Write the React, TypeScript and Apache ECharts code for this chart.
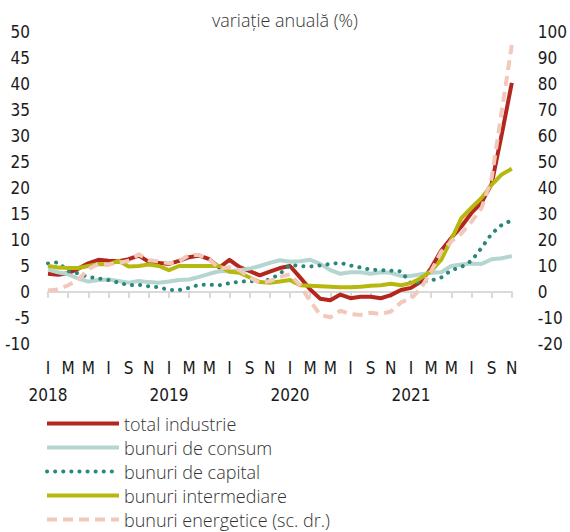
import React, { useEffect, useRef } from 'react';
import * as echarts from 'echarts';

const years = ['2018', '2019', '2020', '2021'];
const monthLetters = ['I', 'F', 'M', 'A', 'M', 'I', 'I', 'A', 'S', 'O', 'N', 'D'];
const monthCount = 47;
const categories: string[] = [];
years.forEach((y) =>
  monthLetters.forEach((_, k) => {
    if (categories.length < monthCount) categories.push(`${y}-${String(k + 1).padStart(2, '0')}`);
  })
);

const totalIndustrie = [
  3.5, 3.3, 3.6, 4.5, 5.5, 6.2, 6.0, 5.9, 6.3, 7.0, 5.8, 5.6,
  5.4, 6.0, 6.7, 7.0, 6.3, 4.7, 6.2, 4.8, 4.0, 3.2, 3.9, 4.6,
  5.0, 2.8, 0.5, -1.3, -1.6, -0.5, -1.2, -0.9, -0.9, -1.2, -0.6, 0.4,
  0.8, 2.0, 4.6, 8.0, 10.4, 12.6, 15.2, 17.2, 20.8, 30.3, 40.2,
];
const bunuriConsum = [
  4.3, 3.8, 3.4, 2.6, 2.0, 2.3, 2.4, 2.1, 1.8, 2.1, 1.9, 1.8,
  2.0, 2.3, 2.4, 2.9, 3.5, 4.0, 4.0, 4.2, 4.5, 5.0, 5.6, 6.1,
  5.8, 5.9, 6.2, 5.4, 4.2, 3.5, 3.8, 3.8, 3.5, 3.8, 3.7, 3.1,
  3.1, 3.4, 3.7, 3.8, 5.0, 5.3, 5.5, 5.4, 6.3, 6.5, 6.9,
];
const bunuriCapital = [
  5.5, 5.7, 4.0, 3.6, 2.9, 2.6, 2.3, 1.8, 1.3, 1.4, 1.1, 0.9,
  0.4, 0.4, 0.8, 1.4, 1.4, 1.3, 1.7, 2.0, 2.1, 1.9, 2.4, 3.5,
  5.2, 5.0, 4.9, 5.1, 5.4, 5.6, 5.1, 4.7, 4.3, 4.2, 4.1, 4.0,
  1.6, 2.0, 2.2, 2.8, 4.2, 4.8, 6.0, 8.5, 11.2, 12.9, 13.8,
];
const bunuriIntermediare = [
  5.0, 4.7, 4.6, 4.6, 5.0, 5.4, 5.3, 6.0, 4.9, 5.0, 5.3, 5.0,
  4.2, 5.0, 5.0, 5.0, 5.0, 5.0, 3.9, 3.7, 2.8, 1.9, 1.8, 2.0,
  2.3, 1.3, 1.2, 1.1, 1.0, 0.9, 0.9, 1.0, 1.2, 1.3, 1.6, 1.3,
  1.7, 2.7, 4.0, 6.2, 10.1, 14.2, 16.2, 18.1, 20.6, 22.6, 23.7,
];
const bunuriEnergetice = [
  0.6, 1.0, 2.6, 4.8, 8.8, 10.8, 10.6, 11.2, 12.0, 14.5, 12.2, 11.8,
  11.0, 11.8, 14.2, 14.2, 12.6, 9.0, 9.5, 8.4, 5.6, 3.5, 4.2, 5.8,
  6.8, 2.5, -3.5, -8.8, -9.7, -7.2, -8.5, -8.8, -8.0, -8.5, -7.5, -4.0,
  -2.5, 1.5, 8.0, 15.5, 19.5, 22.5, 27.0, 32.3, 43.8, 69.5, 95.0,
];

const seriesNames = [
  'total industrie',
  'bunuri de consum',
  'bunuri de capital',
  'bunuri intermediare',
  'bunuri energetice (sc. dr.)',
];

const leftAxis = { min: -10, max: 50, interval: 5 };
const rightAxis = { min: -20, max: 100, interval: 10 };

const tickFont = "'Liberation Sans Narrow', 'DejaVu Sans Condensed', sans-serif";
const textFont = "'Open Sans', 'Noto Sans', sans-serif";

export default function App() {
  const ref = useRef<HTMLDivElement>(null);

  useEffect(() => {
    if (!ref.current) return;
    const chart = echarts.init(ref.current, undefined, { renderer: 'svg' });
    const axisLabelStyle = { fontFamily: tickFont, fontSize: 17, color: '#1a1a1a' };
    const lineBase = (color: string, extra: any = {}) => ({
      type: 'line',
      symbol: 'none',
      smooth: false,
      itemStyle: { color },
      lineStyle: { color, width: 4, join: 'round', ...extra },
      emphasis: { disabled: true },
    });

    chart.setOption({
      animation: false,
      title: {
        text: 'variație anuală (%)',
        left: 'center',
        top: 6,
        textStyle: { fontFamily: textFont, fontSize: 18, fontWeight: 300, color: '#333' },
      },
      grid: { left: 48, right: 51, top: 32, bottom: 188, containLabel: false },
      legend: {
        orient: 'vertical',
        left: 45,
        top: 414,
        height: 140,
        padding: 0,
        itemWidth: 72,
        itemHeight: 14,
        itemGap: 5,
        data: seriesNames,
        itemStyle: { opacity: 0, borderWidth: 0 },
        lineStyle: { width: 4 },
        textStyle: { fontFamily: textFont, fontSize: 18, fontWeight: 300, color: '#333', lineHeight: 19 },
        selectedMode: false,
      },
      xAxis: [
        {
          type: 'category',
          data: categories,
          boundaryGap: false,
          axisLine: { onZero: true, lineStyle: { color: '#d9d9d9', width: 2 } },
          axisTick: { show: true, interval: 1, length: 6, lineStyle: { color: '#d9d9d9', width: 2 } },
          axisLabel: { show: false },
        },
        {
          type: 'category',
          data: categories,
          boundaryGap: false,
          position: 'bottom',
          axisLine: { show: false, onZero: false },
          axisTick: { show: false },
          axisLabel: {
            interval: 0,
            margin: 15,
            ...axisLabelStyle,
            formatter: (_v: string, i: number) => (i % 2 === 0 ? monthLetters[i % 12] : ''),
          },
        },
        {
          type: 'category',
          data: categories,
          boundaryGap: false,
          position: 'bottom',
          offset: 27,
          axisLine: { show: false, onZero: false },
          axisTick: { show: false },
          axisLabel: {
            interval: 0,
            margin: 15,
            ...axisLabelStyle,
            formatter: (_v: string, i: number) => (i % 12 === 0 ? years[i / 12] : ''),
          },
        },
      ],
      yAxis: [
        {
          type: 'value',
          ...leftAxis,
          axisLine: { show: false },
          axisTick: { show: false },
          splitLine: { show: false },
          axisLabel: { margin: 18, ...axisLabelStyle },
        },
        {
          type: 'value',
          position: 'right',
          ...rightAxis,
          axisLine: { show: false },
          axisTick: { show: false },
          splitLine: { show: false },
          axisLabel: { margin: 26, ...axisLabelStyle },
        },
      ],
      series: [
        { ...lineBase('#b3271e'), name: seriesNames[0], data: totalIndustrie, yAxisIndex: 0 },
        { ...lineBase('#b5d5d0'), name: seriesNames[1], data: bunuriConsum, yAxisIndex: 0 },
        {
          ...lineBase('#2b877b', { type: [0.1, 8], cap: 'round' }),
          name: seriesNames[2],
          data: bunuriCapital,
          yAxisIndex: 0,
        },
        { ...lineBase('#b7b80f'), name: seriesNames[3], data: bunuriIntermediare, yAxisIndex: 0 },
        {
          ...lineBase('#f2c8bb', { type: [10, 6] }),
          name: seriesNames[4],
          data: bunuriEnergetice,
          yAxisIndex: 1,
        },
      ],
    });
    return () => chart.dispose();
  }, []);

  return (
    <div
      ref={ref}
      style={{ position: 'fixed', left: 0, top: 0, width: 570, height: 532, background: '#fff' }}
    />
  );
}
